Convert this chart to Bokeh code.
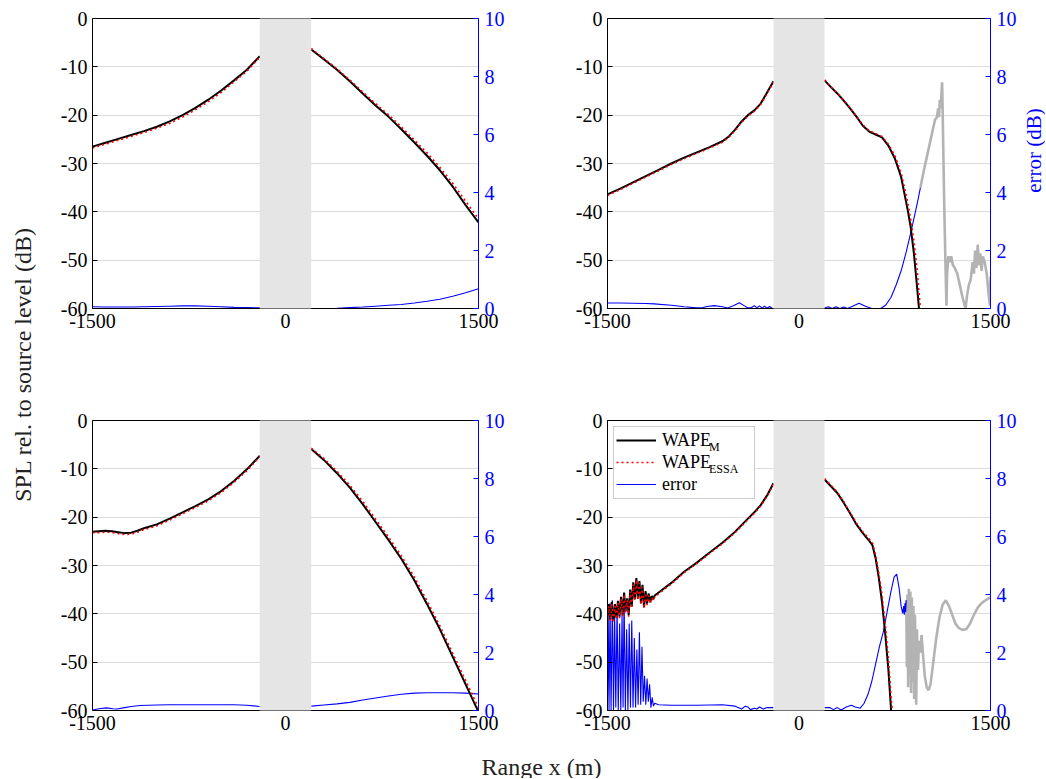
import math
import numpy as np
from bokeh.plotting import figure
from bokeh.models import (Range1d, LinearAxis, FixedTicker, BoxAnnotation, Legend,
                          LegendItem, Grid, Label)
from bokeh.layouts import row, column
from bokeh.embed import file_html
from bokeh.resources import INLINE
from bokeh.core.properties import value

nan = float("nan")

# ---------------- data ----------------
# Panel A (top-left)
xa = [-1500, -1400, -1300, -1200, -1100, -1000, -900, -800, -700, -600, -500, -400, -300, -200, nan,
      200, 300, 400, 500, 600, 700, 800, 900, 1000, 1100, 1200, 1300, 1400, 1500]
wape_m_a = [-26.5, -25.7, -24.9, -24.1, -23.3, -22.4, -21.3, -20.0, -18.5, -16.8, -14.9, -12.8, -10.6, -7.8, nan,
            -6.4, -8.5, -10.6, -13.0, -15.5, -18.0, -20.3, -22.9, -25.6, -28.4, -31.4, -34.8, -38.6, -42.2]
wape_e_a = [-26.8, -26.0, -25.2, -24.4, -23.6, -22.7, -21.7, -20.4, -18.9, -17.2, -15.3, -13.1, -10.9, -8.0, nan,
            -6.2, -8.3, -10.4, -12.7, -15.2, -17.6, -19.9, -22.4, -25.1, -27.8, -30.8, -34.1, -37.8, -41.4]
err_a = [0.06, 0.05, 0.05, 0.05, 0.06, 0.07, 0.08, 0.09, 0.09, 0.08, 0.06, 0.04, 0.03, 0.02, nan,
         0.0, 0.0, 0.01, 0.03, 0.05, 0.08, 0.11, 0.14, 0.19, 0.25, 0.32, 0.42, 0.54, 0.68]

# Panel B (top-right)
xb = [-1500, -1400, -1300, -1200, -1100, -1000, -900, -800, -700, -600, -550, -500, -450, -400, -350, -300, -250, -200, nan,
      200, 250, 300, 350, 400, 450, 500, 550, 600, 650, 700, 750, 800, 850, 875, 900, 925, 950, 975]
wape_m_b = [-36.4, -35.2, -33.9, -32.6, -31.3, -30.0, -28.8, -27.7, -26.6, -25.4, -24.4, -23.0, -21.3, -20.0, -19.0, -17.6, -15.3, -13.0, nan,
            -12.8, -14.2, -15.5, -17.0, -18.6, -20.3, -22.2, -23.4, -24.0, -24.6, -26.3, -28.9, -32.8, -39.4, -43.2, -48.6, -55.6, -63.0, -70.0]
wape_e_b = [-36.6, -35.4, -34.1, -32.8, -31.5, -30.2, -29.0, -27.9, -26.8, -25.6, -24.6, -23.2, -21.5, -20.2, -19.2, -17.8, -15.5, -13.2, nan,
            -12.7, -14.1, -15.4, -16.9, -18.5, -20.2, -22.0, -23.2, -23.8, -24.4, -26.0, -28.3, -31.9, -37.8, -41.5, -46.0, -51.8, -59.7, -66.0]
xe_b = [-1500, -1400, -1300, -1200, -1135, -1000, -900, -800, -768, -720, -664, -600, -559, -510, -468, -430, -400, -377,
        -350, -330, -310, -290, -270, -250, -230, -210, nan,
        200, 230, 260, 290, 320, 350, 380, 420, 470, 520, 570, 600, 640, 680, 720, 760, 800, 840, 880, 910, 930, 951]
err_b = [0.19, 0.19, 0.18, 0.17, 0.16, 0.11, 0.06, 0.02, 0.02, 0.07, 0.1, 0.06, 0.02, 0.1, 0.2, 0.1, 0.02, 0.02,
         0.1, 0.02, 0.09, 0.01, 0.08, 0.01, 0.07, 0.01, nan,
         0.02, 0.06, 0.0, 0.06, 0.0, 0.05, 0.0, 0.08, 0.18, 0.08, 0.0, 0.0, 0.0, 0.12, 0.38, 0.8, 1.3, 1.95, 2.7, 3.3, 3.7, 4.17]
xg_b = [951, 980, 1010, 1040, 1065, 1080, 1090, 1097, 1103, 1110, 1116, 1121, 1125, 1130, 1138, 1145, 1150, 1155, 1160,
        1170, 1180, 1192, 1205, 1220, 1240, 1260, 1280, 1295, 1305, 1315, 1330, 1345, 1360, 1370, 1380, 1390, 1400,
        1410, 1420, 1430, 1440, 1455, 1470, 1485, 1495, 1500]
errg_b = [4.17, 4.8, 5.4, 6.0, 6.5, 6.6, 6.9, 6.6, 7.2, 6.9, 7.4, 7.8, 6.9, 5.5, 3.5, 2.0, 1.0, 0.1, 1.2,
          1.8, 1.6, 1.8, 1.5, 1.4, 1.2, 0.8, 0.4, 0.15, 0.0, 0.4, 0.8, 1.0, 1.6, 1.2, 2.0, 1.4, 2.2,
          1.5, 1.9, 1.3, 1.8, 1.6, 1.2, 0.5, 0.1, 1.1]

# Panel C (bottom-left)
xc = [-1500, -1450, -1400, -1350, -1300, -1250, -1200, -1150, -1100, -1000, -900, -800, -700, -600, -500, -400, -300, -200, nan,
      200, 300, 400, 500, 600, 700, 800, 900, 1000, 1100, 1200, 1300, 1400, 1500]
wape_m_c = [-23.0, -22.9, -22.8, -22.9, -23.1, -23.3, -23.2, -22.8, -22.3, -21.5, -20.3, -19.0, -17.7, -16.3, -14.6, -12.5, -10.1, -7.3, nan,
            -5.9, -8.2, -10.9, -13.9, -17.3, -21.0, -24.7, -28.6, -33.0, -38.0, -43.2, -48.9, -54.6, -60.3]
wape_e_c = [-23.2, -23.2, -23.1, -23.2, -23.4, -23.6, -23.5, -23.1, -22.6, -21.8, -20.6, -19.3, -18.0, -16.6, -14.9, -12.8, -10.4, -7.5, nan,
            -5.7, -7.9, -10.5, -13.4, -16.7, -20.4, -24.1, -28.0, -32.3, -37.3, -42.5, -48.2, -53.8, -59.4]
xe_c = [-1500, -1450, -1390, -1340, -1310, -1250, -1200, -1130, -1000, -900, -700, -500, -400, -300, -200, nan,
        200, 300, 400, 500, 600, 700, 800, 900, 1000, 1100, 1200, 1300, 1400, 1500]
err_c = [0.02, 0.06, 0.09, 0.06, 0.05, 0.1, 0.14, 0.17, 0.19, 0.2, 0.2, 0.2, 0.2, 0.18, 0.14, nan,
         0.15, 0.19, 0.23, 0.28, 0.36, 0.43, 0.5, 0.56, 0.6, 0.61, 0.61, 0.61, 0.6, 0.57]

# Panel D (bottom-right)
xd = [-1500, -1490, -1478, -1466, -1454, -1442, -1430, -1418, -1406, -1394, -1382, -1370, -1358, -1346, -1334,
      -1322, -1310, -1298, -1286, -1274, -1262, -1250, -1238, -1226, -1214, -1202, -1190, -1178, -1166, -1154,
      -1142, -1130, -1000, -900, -800, -700, -600, -500, -400, -350, -300, -250, -200, nan,
      200, 250, 300, 350, 400, 450, 500, 550, 575, 600, 625, 650, 675, 700, 722, 740]
wape_m_d = [-40.5, -38.0, -41.2, -37.5, -41.5, -38.0, -40.8, -37.3, -40.6, -36.5, -40.2, -35.6, -39.5, -36.8, -40.3,
            -35.0, -38.5, -33.5, -37.0, -32.6, -36.8, -33.2, -37.8, -34.0, -38.6, -35.3, -37.9, -35.8, -37.6, -36.3,
            -37.0, -36.2, -33.6, -31.3, -29.4, -27.3, -25.3, -23.0, -20.3, -19.0, -17.5, -15.5, -13.0, nan,
            -12.2, -13.6, -15.0, -17.0, -19.2, -21.5, -23.3, -24.9, -25.8, -28.5, -32.5, -37.5, -44.0, -51.5, -60.2, -68.0]
wape_e_d = [-40.9, -38.4, -41.5, -37.9, -41.8, -38.4, -41.1, -37.7, -40.9, -36.9, -40.5, -36.0, -39.8, -37.2, -40.6,
            -35.4, -38.8, -33.9, -37.3, -33.0, -37.1, -33.6, -38.1, -34.4, -38.9, -35.7, -38.2, -36.2, -37.9, -36.7,
            -37.3, -36.5, -33.8, -31.5, -29.6, -27.5, -25.5, -23.2, -20.5, -19.2, -17.7, -15.7, -13.2, nan,
            -12.0, -13.4, -14.8, -16.8, -19.0, -21.2, -23.0, -24.5, -25.3, -27.8, -31.5, -36.0, -42.0, -49.0, -57.5, -62.0]
xe_d = [-1500, -1495, -1488, -1480, -1472, -1462, -1453, -1444, -1435, -1425, -1416, -1405, -1396, -1386, -1378,
        -1370, -1360, -1350, -1340, -1330, -1320, -1310, -1300, -1290, -1280, -1270, -1260, -1250, -1240, -1230,
        -1220, -1210, -1200, -1190, -1180, -1170, -1160, -1150, -1140, -1130, -1100, -1000, -800, -600, -500,
        -450, -420, -400, -380, -350, -330, -310, -280, -250, -200, nan,
        200, 240, 270, 300, 330, 370, 410, 440, 480, 510, 540, 570, 600, 630, 660, 690, 720, 745, 765, 785,
        800, 812, 820, 825, 830, 835, 840]
err_d = [0.5, 3.5, 0.0, 3.7, 0.0, 3.8, 0.0, 3.3, 0.1, 3.6, 0.0, 3.0, 0.0, 3.3, 0.1,
         4.0, 0.0, 2.8, 0.0, 3.0, 0.1, 3.1, 0.1, 2.5, 0.1, 2.1, 0.2, 2.7, 0.2, 2.2,
         0.3, 1.2, 0.2, 1.1, 0.3, 0.9, 0.1, 0.45, 0.15, 0.25, 0.2, 0.18, 0.18, 0.2, 0.15,
         0.05, 0.15, 0.12, 0.03, 0.08, 0.05, 0.12, 0.05, 0.1, 0.1, nan,
         0.1, 0.1, 0.03, 0.1, 0.02, 0.12, 0.18, 0.12, 0.08, 0.25, 0.55, 1.0, 1.6, 2.2, 2.7, 3.4, 4.1, 4.6, 4.7, 4.2,
         3.6, 3.35, 3.6, 3.3, 3.7, 3.4, 3.8]
xg_d = [840, 845, 850, 855, 860, 866, 872, 878, 884, 890, 896, 902, 908, 914, 918, 924, 932, 940, 950, 960, 970,
        985, 1000, 1015, 1030, 1050, 1075, 1100, 1125, 1150, 1175, 1200, 1225, 1250, 1280, 1310, 1340, 1370,
        1400, 1430, 1460, 1480, 1500]
errg_d = [3.8, 1.5, 4.0, 0.8, 4.2, 1.2, 4.1, 0.6, 3.9, 1.0, 3.6, 0.4, 3.3, 1.8, 0.2, 2.8, 1.4, 2.4, 2.0, 2.6, 2.0,
          1.2, 0.8, 0.7, 0.9, 1.6, 2.5, 3.2, 3.65, 3.8, 3.6, 3.3, 3.0, 2.85, 2.78, 2.8, 3.0, 3.3,
          3.55, 3.7, 3.8, 3.85, 3.9]

x_ticks = [-1500, 0, 1500]
spl_ticks = [-60, -50, -40, -30, -20, -10, 0]
err_ticks = [0, 2, 4, 6, 8, 10]
gap = (-200, 200)

FONT = "Liberation Serif"
BLUE = "#0000ff"
FH = 290


def arr(v):
    return np.array(v, dtype=float)


def style_axis(ax, color):
    ax.axis_line_color = color
    ax.major_tick_line_color = color
    ax.minor_tick_line_color = None
    ax.major_label_text_color = color
    ax.major_tick_in = 5
    ax.major_tick_out = 0
    ax.major_label_text_font = FONT
    ax.major_label_text_font_size = "20px"
    ax.axis_label_text_font = FONT
    ax.axis_label_text_font_style = "normal"


def panel(fw, bl, br, bt, bb, x, m, e, xe, err, xg=None, g=None):
    p = figure(frame_width=fw, frame_height=FH, x_range=Range1d(-1500, 1500), y_range=Range1d(-60, 0),
               output_backend="svg", toolbar_location=None, x_axis_type=None, y_axis_type=None,
               min_border_left=bl, min_border_right=br, min_border_top=bt, min_border_bottom=bb)
    p.outline_line_color = None
    p.extra_y_ranges = {"err": Range1d(0, 10)}

    p.add_layout(Grid(dimension=1, ticker=FixedTicker(ticks=spl_ticks[1:-1]),
                      grid_line_color="#dcdcdc", grid_line_width=1))

    xax = LinearAxis(ticker=FixedTicker(ticks=x_ticks),
                     major_label_overrides={t: str(t) for t in x_ticks})
    style_axis(xax, "black")
    xax.major_label_standoff = 5
    p.add_layout(xax, "below")

    top = LinearAxis(ticker=FixedTicker(ticks=[]))
    style_axis(top, "black")
    top.major_label_standoff = 0
    top.major_tick_in = 0
    p.add_layout(top, "above")

    yax = LinearAxis(ticker=FixedTicker(ticks=spl_ticks),
                     major_label_overrides={t: str(t) for t in spl_ticks})
    style_axis(yax, "black")
    yax.major_label_standoff = 5
    p.add_layout(yax, "left")

    rax = LinearAxis(y_range_name="err", ticker=FixedTicker(ticks=err_ticks),
                     major_label_overrides={t: str(t) for t in err_ticks})
    style_axis(rax, BLUE)
    rax.major_label_standoff = 6
    p.add_layout(rax, "right")

    rs = {}
    if xg is not None:
        p.line(arr(xg), arr(g), y_range_name="err", line_color="#b3b3b3", line_width=2.6)
    rs["err"] = p.line(arr(xe), arr(err), y_range_name="err", line_color=BLUE, line_width=1.1)
    rs["m"] = p.line(arr(x), arr(m), line_color="black", line_width=2.0)
    rs["e"] = p.line(arr(x), arr(e), line_color="red", line_width=1.6, line_dash="2 3")

    p.add_layout(BoxAnnotation(left=gap[0], right=gap[1], top=0.25, bottom=-60.25,
                               fill_color="#e5e5e5", fill_alpha=1.0, line_alpha=0, level="overlay"))
    return p, rs


px_per_m = 383 / 3000.0
px_per_db = FH / 60.0

TOP_H = 18 + FH + 50
PB_BR = 28
EL_W = 26
pa, _ = panel(386, 54, 50, 18, 50, xa, wape_m_a, wape_e_a, xa, err_a)
pb, _ = panel(383, 79, PB_BR, 18, 50, xb, wape_m_b, wape_e_b, xe_b, err_b, xg_b, errg_b)
pc, _ = panel(386, 54, 50, 62, 32, xc, wape_m_c, wape_e_c, xe_c, err_c)
pd, rd = panel(383, 79, PB_BR + EL_W, 62, 32, xd, wape_m_d, wape_e_d, xe_d, err_d, xg_d, errg_d)

# ---- legend of the bottom-right panel ----
LG_M, LG_PAD, LG_GW, LG_ST, LG_LW, LG_ROW = 6, 3, 40, 6, 89, 22
lg_w = LG_PAD + LG_GW + LG_ST + LG_LW + LG_PAD
lg_h = LG_PAD + 3 * LG_ROW + LG_PAD
pd.add_layout(BoxAnnotation(left=-1500 + LG_M / px_per_m, right=-1500 + (LG_M + lg_w) / px_per_m,
                            top=-LG_M / px_per_db, bottom=-(LG_M + lg_h) / px_per_db,
                            fill_color="white", fill_alpha=1.0, line_color="#555555", line_width=1))
legend = Legend(items=[LegendItem(label=value("WAPE"), renderers=[rd["m"]]),
                       LegendItem(label=value("WAPE"), renderers=[rd["e"]]),
                       LegendItem(label=value("error"), renderers=[rd["err"]])],
                location="top_left", margin=LG_M, padding=LG_PAD, spacing=0, glyph_width=LG_GW,
                glyph_height=20, label_standoff=LG_ST, label_width=LG_LW, label_height=LG_ROW,
                label_text_font=FONT, label_text_font_size="18px", label_text_color="black",
                border_line_alpha=0, background_fill_alpha=0)
pd.add_layout(legend)

sub_px = LG_M + LG_PAD + LG_GW + LG_ST + 46.5
sub_x = -1500 + sub_px / px_per_m
for txt, dy in (("M", LG_M + LG_PAD + LG_ROW / 2 + 6), ("ESSA", LG_M + LG_PAD + 1.5 * LG_ROW + 6)):
    pd.add_layout(Label(x=sub_x, y=-dy / px_per_db, text=txt, text_font=FONT,
                        text_font_size="12px", text_align="left", text_baseline="middle",
                        text_color="black"))

# ---- axis titles ----
el = figure(width=EL_W, height=TOP_H, x_range=Range1d(0, EL_W), y_range=Range1d(0, TOP_H),
            output_backend="svg", toolbar_location=None, x_axis_type=None, y_axis_type=None, min_border=0)
el.outline_line_color = None
el.text(x=[14], y=[TOP_H - 163], text=["error (dB)"], angle=math.pi / 2, text_font=value(FONT),
        text_font_size="21px", text_align="center", text_baseline="middle", text_color=BLUE)

row_w = (54 + 386 + 50) + (79 + 383 + PB_BR + EL_W)
XL_H = 36
xl = figure(width=row_w, height=XL_H, x_range=Range1d(0, row_w), y_range=Range1d(0, XL_H),
            output_backend="svg", toolbar_location=None, x_axis_type=None, y_axis_type=None, min_border=0)
xl.outline_line_color = None
xl.text(x=[503], y=[12], text=["Range x (m)"], text_font=value(FONT), text_font_size="24px",
        text_align="center", text_baseline="middle", text_color="#222222")

YL_W = 38
YL_H = TOP_H + 62 + FH + 32 + XL_H
yl = figure(width=YL_W, height=YL_H, x_range=Range1d(0, YL_W), y_range=Range1d(0, YL_H),
            output_backend="svg", toolbar_location=None, x_axis_type=None, y_axis_type=None, min_border=0)
yl.outline_line_color = None
yl.text(x=[22], y=[YL_H - 364], text=["SPL rel. to source level (dB)"], angle=math.pi / 2,
        text_font=value(FONT), text_font_size="24px", text_align="center", text_baseline="middle",
        text_color="#222222")

layout = row(yl, column(row(pa, pb, el), row(pc, pd), xl))

with open("out.html", "w") as f:
    f.write(file_html(layout, INLINE))
